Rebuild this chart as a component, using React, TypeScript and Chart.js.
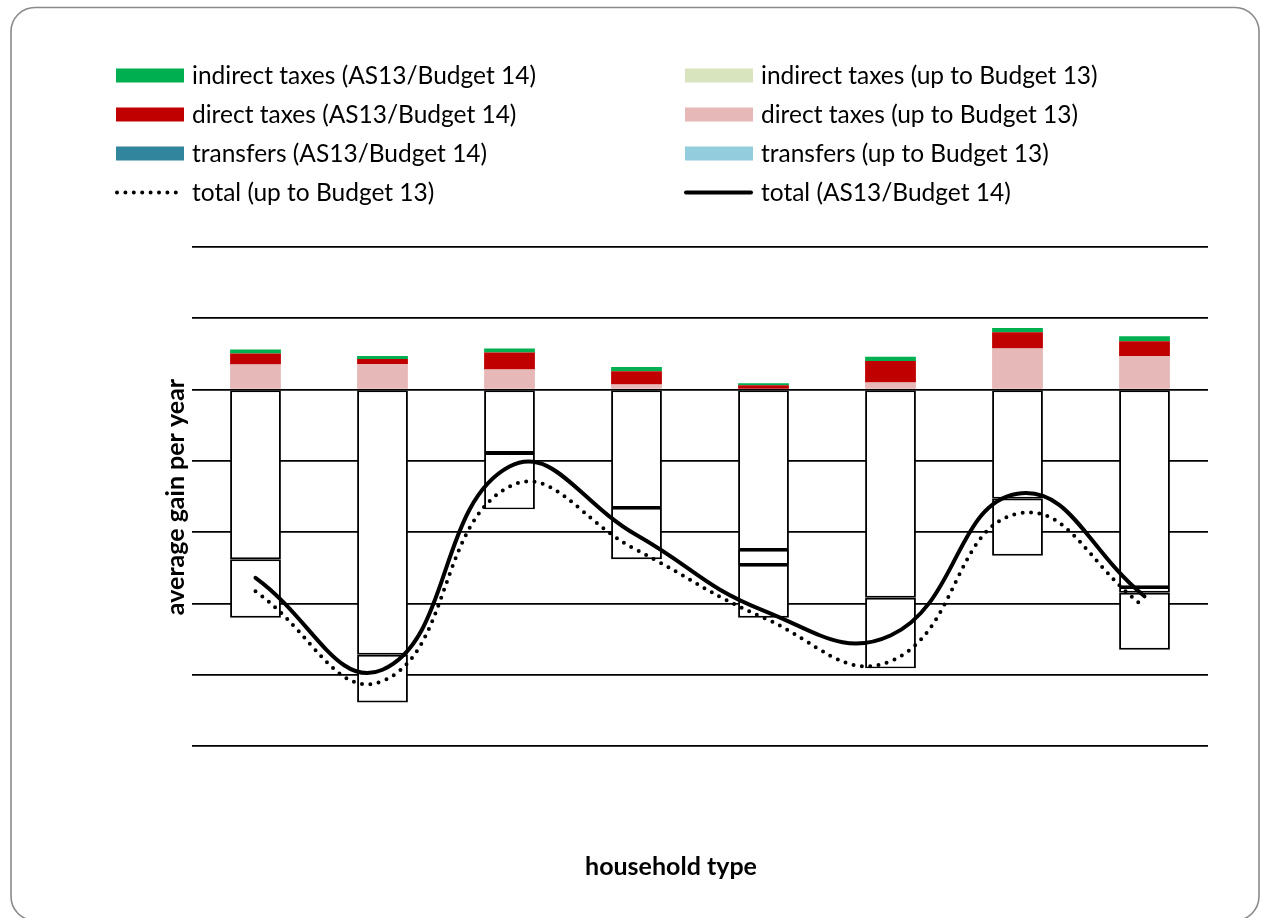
import React, { useEffect, useRef } from "react";
import { Chart, registerables } from "chart.js";

Chart.register(...registerables);

// ---------- data ----------
const categories = ["HH1", "HH2", "HH3", "HH4", "HH5", "HH6", "HH7", "HH8"];

// positive stack components
const directTaxesUpToB13 = [0.35, 0.355, 0.28, 0.07, 0.0, 0.1, 0.575, 0.467];
const directTaxesAS13 = [0.155, 0.075, 0.24, 0.187, 0.06, 0.3, 0.229, 0.21];
const indirectTaxesAS13 = [0.056, 0.042, 0.056, 0.06, 0.028, 0.06, 0.06, 0.07];

// negative stack components
const transfersUpToB13 = [-2.38, -3.72, -0.89, -1.66, -2.25, -2.92, -1.53, -2.77];
const indirectTaxesUpToB13 = [0, 0, 0, 0, -0.21, 0, 0, -0.08];
const transfersAS13 = [-0.82, -0.67, -0.79, -0.72, -0.74, -0.99, -0.8, -0.8];

// totals
const totalAS13 = [-2.64, -3.93, -1.08, -2.04, -3.1, -3.45, -1.46, -2.9];
const totalUpToB13 = [-2.83, -4.09, -1.36, -2.25, -3.2, -3.81, -1.74, -3.05];

const yMin = -5;
const yMax = 2;
const yStep = 1;

const legendLeft = [
  "indirect taxes (AS13/Budget 14)",
  "direct taxes (AS13/Budget 14)",
  "transfers (AS13/Budget 14)",
  "total (up to Budget 13)",
];
const legendRight = [
  "indirect taxes (up to Budget 13)",
  "direct taxes (up to Budget 13)",
  "transfers (up to Budget 13)",
  "total (AS13/Budget 14)",
];

const yTitle = "average gain per year";
const xTitle = "household type";

const FONT = "Lato, 'Noto Sans', sans-serif";

function barDataset(label: string, data: number[], color: string, legendColor: string) {
  return {
    type: "bar" as const,
    label,
    data,
    legendColor,
    order: 2,
    backgroundColor: (c: any) => ((c.raw as number) < 0 ? "#ffffff" : color),
    borderColor: "#000000",
    borderWidth: (c: any) => ((c.raw as number) < 0 ? 1.9 : 0),
    borderSkipped: false,
    categoryPercentage: 1,
    barPercentage: 0.4,
  };
}

const decorPlugin = {
  id: "decor",
  beforeDraw(chart: any) {
    const ctx = chart.ctx as CanvasRenderingContext2D;
    ctx.save();
    ctx.fillStyle = "#ffffff";
    ctx.fillRect(0, 0, chart.width, chart.height);
    ctx.strokeStyle = "#8a8a8a";
    ctx.lineWidth = 1.6;
    ctx.beginPath();
    (ctx as any).roundRect(11, 7.5, 1248, 913, 24);
    ctx.stroke();
    ctx.restore();
  },
  afterDraw(chart: any) {
    const ctx = chart.ctx as CanvasRenderingContext2D;
    const dsByLabel: Record<string, any> = {};
    chart.data.datasets.forEach((d: any) => (dsByLabel[d.label] = d));
    const rowsY = [75.5, 114.5, 153.5, 192.5];
    const cols = [
      { x: 116, items: legendLeft },
      { x: 685, items: legendRight },
    ];
    ctx.save();
    ctx.font = `24.5px ${FONT}`;
    ctx.textBaseline = "middle";
    ctx.textAlign = "left";
    cols.forEach((col) => {
      col.items.forEach((label, i) => {
        const ds = dsByLabel[label];
        const y = rowsY[i];
        if (ds && ds.type === "line") {
          ctx.save();
          ctx.strokeStyle = "#000";
          ctx.lineWidth = ds.borderWidth;
          const dashed = ds.borderDash && ds.borderDash.length;
          ctx.lineCap = "round";
          ctx.setLineDash(ds.borderDash || []);
          ctx.beginPath();
          ctx.moveTo(col.x + 1, y);
          ctx.lineTo(col.x + (dashed ? 68 : 66), y);
          ctx.stroke();
          ctx.restore();
        } else if (ds) {
          ctx.fillStyle = ds.legendColor;
          ctx.fillRect(col.x, y - 7, 68, 14);
        }
        ctx.fillStyle = "#000";
        ctx.fillText(label, col.x + 76, y + 1);
      });
    });
    // axis titles
    ctx.font = `bold 25px ${FONT}`;
    ctx.textAlign = "center";
    ctx.fillText(xTitle, 671, 867);
    ctx.translate(176, 497);
    ctx.rotate(-Math.PI / 2);
    ctx.fillText(yTitle, 0, 0);
    ctx.restore();
  },
};

export default function App() {
  const ref = useRef<HTMLCanvasElement | null>(null);

  useEffect(() => {
    if (!ref.current) return;
    const chart = new Chart(ref.current, {
      type: "bar",
      data: {
        labels: categories,
        datasets: [
          barDataset("direct taxes (up to Budget 13)", directTaxesUpToB13, "#E6B9B8", "#E6B9B8"),
          barDataset("transfers (up to Budget 13)", transfersUpToB13, "#93CDDD", "#93CDDD"),
          barDataset("indirect taxes (up to Budget 13)", indirectTaxesUpToB13, "#D7E4BD", "#D7E4BD"),
          barDataset("direct taxes (AS13/Budget 14)", directTaxesAS13, "#C00000", "#C00000"),
          barDataset("indirect taxes (AS13/Budget 14)", indirectTaxesAS13, "#00B050", "#00B050"),
          barDataset("transfers (AS13/Budget 14)", transfersAS13, "#31859C", "#31859C"),
          {
            type: "line" as const,
            label: "total (AS13/Budget 14)",
            data: totalAS13,
            stack: "lineA",
            order: 0,
            borderColor: "#000",
            borderWidth: 4,
            borderDash: [],
            borderCapStyle: "round",
            pointRadius: 0,
            tension: 0.45,
            fill: false,
          } as any,
          {
            type: "line" as const,
            label: "total (up to Budget 13)",
            data: totalUpToB13,
            stack: "lineB",
            order: 1,
            borderColor: "#000",
            borderWidth: 4,
            borderDash: [0, 8.4],
            borderCapStyle: "round",
            pointRadius: 0,
            tension: 0.45,
            fill: false,
          } as any,
        ] as any,
      },
      options: {
        animation: false,
        responsive: false,
        maintainAspectRatio: false,
        devicePixelRatio: 1,
        layout: { padding: { left: 192, right: 56, top: 247, bottom: 172 } },
        plugins: {
          legend: { display: false },
          tooltip: { enabled: false },
          title: { display: false },
        },
        scales: {
          x: {
            stacked: true,
            display: false,
            grid: { display: false },
          },
          y: {
            stacked: true,
            min: yMin,
            max: yMax,
            display: true,
            ticks: { display: false, stepSize: yStep },
            grid: { color: "#000", lineWidth: 1.8, drawTicks: false },
            border: { display: false },
          },
        },
      } as any,
      plugins: [decorPlugin],
    });
    return () => chart.destroy();
  }, []);

  return (
    <div style={{ position: "absolute", left: 0, top: 0, width: 1264, height: 918 }}>
      <canvas ref={ref} width={1264} height={918} style={{ display: "block" }} />
    </div>
  );
}
